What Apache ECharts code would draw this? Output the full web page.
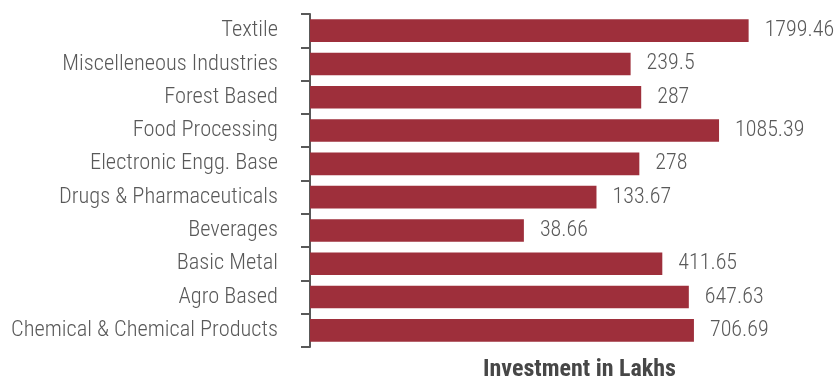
<!DOCTYPE html>
<html><head><meta charset="utf-8">
<script src="https://cdn.jsdelivr.net/npm/echarts@6/dist/echarts.min.js"></script>
<style>html,body{margin:0;padding:0;background:#fff}#c{width:836px;height:376px}</style>
</head><body><div id="c"></div>
<script>
const categories = ["Textile","Miscelleneous Industries","Forest Based","Food Processing","Electronic Engg. Base","Drugs & Pharmaceuticals","Beverages","Basic Metal","Agro Based","Chemical & Chemical Products"];
const investment = [1799.46,239.5,287,1085.39,278,133.67,38.66,411.65,647.63,706.69];
const axisTitle = "Investment in Lakhs";
const FONT = "'Roboto Condensed',sans-serif";
const chart = echarts.init(document.getElementById('c'));
chart.setOption({
  animation:false,
  grid:{left:310,top:14,width:539,height:333,containLabel:false,outerBoundsMode:'none'},
  xAxis:{type:'log',logBase:10,min:1,max:10000,
    name:axisTitle,nameLocation:'middle',nameGap:11,
    nameTextStyle:{fontFamily:FONT,fontSize:24,fontWeight:'bold',color:'#474747',verticalAlign:'top'},
    axisLine:{show:false},axisTick:{show:false},axisLabel:{show:false},splitLine:{show:false}},
  yAxis:{type:'category',data:categories,inverse:true,
    axisLine:{show:true,lineStyle:{color:'#595959',width:2}},
    axisTick:{show:true,length:9,lineStyle:{color:'#595959',width:2}},
    axisLabel:{color:'#595959',fontFamily:FONT,fontWeight:300,fontSize:22.4,margin:32}},
  series:[{type:'bar',data:investment,barCategoryGap:'32%',
    itemStyle:{color:'#9e2f3b'},
    label:{show:true,position:'right',distance:16,color:'#595959',fontFamily:FONT,fontWeight:300,fontSize:22}}]
});
</script></body></html>
